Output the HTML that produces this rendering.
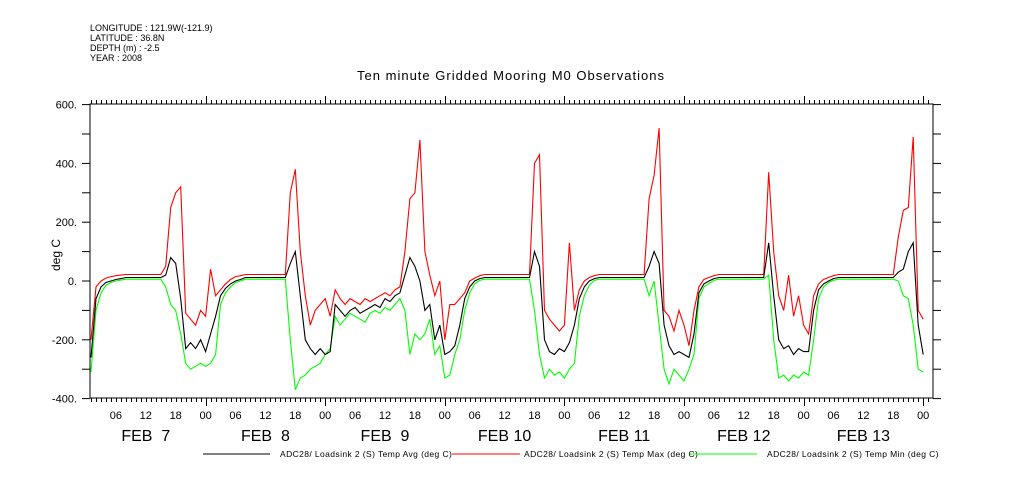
<!DOCTYPE html>
<html><head><meta charset="utf-8">
<style>
body{margin:0;background:#fff;}
svg{display:block;font-family:"Liberation Sans",sans-serif;}
</style></head>
<body>
<svg id="chart" width="1009" height="504" viewBox="0 0 1009 504">
<g font-size="9" fill="#000">
<text x="90" y="31">LONGITUDE : 121.9W(-121.9)</text>
<text x="90" y="41">LATITUDE : 36.8N</text>
<text x="90" y="51">DEPTH (m) : -2.5</text>
<text x="90" y="61">YEAR : 2008</text>
</g>
<text x="511" y="80" font-size="13" text-anchor="middle" letter-spacing="1">Ten minute Gridded Mooring M0 Observations</text>
<text x="0" y="0" font-size="12" text-anchor="middle" transform="translate(60,255) rotate(-90)">deg C</text>
<g id="axes"></g>
<g id="series"></g>
<g font-size="8.5" letter-spacing="0.4">
<line x1="203" y1="454" x2="270" y2="454" stroke="#000"/>
<text x="280" y="457">ADC28/ Loadsink 2 (S) Temp Avg (deg C)</text>
<line x1="452" y1="454" x2="520" y2="454" stroke="#f00"/>
<text x="524" y="457">ADC28/ Loadsink 2 (S) Temp Max (deg C)</text>
<line x1="690" y1="454" x2="757" y2="454" stroke="#0f0"/>
<text x="767" y="457">ADC28/ Loadsink 2 (S) Temp Min (deg C)</text>
</g>
</svg>
<script>
const hourStart = 1;
const avgVals = [-260,-60,-20,-5,0,5,8,12,12,12,12,12,12,12,12,20,80,60,-60,-230,-210,-230,-200,-240,-180,-120,-50,-25,-10,0,5,12,12,12,12,12,12,12,12,12,60,100,-50,-200,-230,-250,-230,-250,-240,-80,-100,-120,-100,-90,-110,-100,-90,-80,-90,-60,-70,-50,-40,20,80,50,0,-100,-80,-200,-150,-250,-240,-220,-150,-60,-20,0,8,12,12,12,12,12,12,12,12,12,12,100,50,-200,-240,-250,-230,-240,-210,-150,-60,-20,0,8,12,12,12,12,12,12,12,12,12,12,50,100,60,-150,-220,-250,-240,-250,-260,-180,-40,-10,0,8,12,12,12,12,12,12,12,12,12,12,130,-50,-200,-230,-220,-250,-230,-240,-240,-100,-30,-10,0,8,12,12,12,12,12,12,12,12,12,12,12,12,30,40,100,130,-150,-250];
const maxVals = [-200,-20,0,10,15,18,20,22,22,22,22,22,22,22,22,50,250,300,320,-110,-130,-150,-100,-120,40,-50,-30,-10,5,15,18,22,22,22,22,22,22,22,22,22,300,380,100,-50,-150,-100,-80,-60,-120,-30,-60,-80,-60,-70,-80,-60,-70,-60,-50,-40,-50,-30,-20,100,280,300,480,100,20,-50,0,-200,-80,-80,-60,-40,0,10,18,22,22,22,22,22,22,22,22,22,22,400,430,-100,-130,-150,-170,-150,130,-100,-30,0,12,18,22,22,22,22,22,22,22,22,22,22,280,360,520,-100,-120,-170,-100,-150,-220,-100,-20,5,12,18,22,22,22,22,22,22,22,22,22,22,370,100,-50,-100,20,-120,-50,-150,-180,-50,-10,5,12,18,22,22,22,22,22,22,22,22,22,22,22,22,150,240,250,490,-100,-130];
const minVals = [-310,-100,-40,-15,-5,0,3,6,6,6,6,6,6,6,6,-20,-80,-100,-180,-280,-300,-290,-280,-290,-280,-250,-80,-40,-20,-5,0,6,6,6,6,6,6,6,6,6,-200,-370,-330,-320,-300,-290,-280,-250,-230,-120,-150,-130,-110,-120,-130,-140,-110,-100,-110,-90,-100,-80,-60,-100,-250,-180,-200,-180,-130,-250,-220,-330,-320,-250,-200,-100,-40,-10,2,6,6,6,6,6,6,6,6,6,6,-100,-250,-330,-300,-320,-310,-330,-300,-280,-120,-50,-15,2,6,6,6,6,6,6,6,6,6,6,-50,0,-150,-300,-350,-300,-320,-340,-300,-250,-60,-20,-8,2,6,6,6,6,6,6,6,6,6,6,20,-200,-330,-320,-340,-320,-330,-310,-320,-200,-60,-20,-5,2,6,6,6,6,6,6,6,6,6,6,6,6,0,-50,-60,-150,-300,-310];
const yTicks = [600,400,200,0,-200,-400];
const hourLabels = ["06","12","18","00"];
const dayLabels = ["FEB  7","FEB  8","FEB  9","FEB 10","FEB 11","FEB 12","FEB 13"];

const X0=90,X1=933,Y0=104,Y1=398;
const xScale = h => 86 + h*119.6/24;
const yScale = v => 281 - v*0.294;
const NS="http://www.w3.org/2000/svg";
const axes=document.getElementById('axes');
function mk(tag,attrs,parent){const e=document.createElementNS(NS,tag);for(const k in attrs)e.setAttribute(k,attrs[k]);parent.appendChild(e);return e;}

const frame=mk('rect',{x:X0,y:Y0,width:X1-X0,height:Y1-Y0,fill:'none',stroke:'#000','stroke-width':1},axes);



for(let v=-400;v<=600;v+=100){
  const y=yScale(v);
  const t1=mk('line',{x1:X0-8,y1:y,x2:X0,y2:y,stroke:'#000'},axes);
  
  
  const t2=mk('line',{x1:X1,y1:y,x2:X1+8,y2:y,stroke:'#000'},axes);
  
  
}
yTicks.forEach(v=>{
  const t=mk('text',{x:X0-13,y:yScale(v)+4,'font-size':11,'text-anchor':'end'},axes);
  t.textContent=v.toFixed(0)+'.';
  
  
});
for(let h=1;h<=169;h++){
  const x=Math.round(xScale(h))+0.5;
  if(x<X0||x>X1)continue;
  const len=(h%24===0)?8:4;
  const b=mk('line',{x1:x,y1:Y1,x2:x,y2:Y1+len,stroke:'#000'},axes);
  
  
  const t=mk('line',{x1:x,y1:Y0,x2:x,y2:Y0-len,stroke:'#000'},axes);
  
  
}
for(let h=6;h<=168;h+=6){
  const t=mk('text',{x:xScale(h),y:419,'font-size':11,'text-anchor':'middle'},axes);
  t.textContent=hourLabels[(h/6-1)%4];
  
  
}
dayLabels.forEach((d,i)=>{
  const t=mk('text',{x:xScale(i*24+12),y:441,'font-size':16,'text-anchor':'middle'},axes);
  t.style.whiteSpace='pre';
  t.textContent=d;
  
  
});

const series=document.getElementById('series');
function draw(vals,color,name){
  const pts=vals.map((v,i)=>xScale(hourStart+i).toFixed(1)+','+yScale(v).toFixed(1)).join(' ');
  const p=mk('polyline',{points:pts,fill:'none',stroke:color,'stroke-width':1.1},series);
  
  
}
draw(minVals,'#00ff00','series-temp-min');
draw(maxVals,'#ff0000','series-temp-max');
draw(avgVals,'#000000','series-temp-avg');
</script>
</body></html>
